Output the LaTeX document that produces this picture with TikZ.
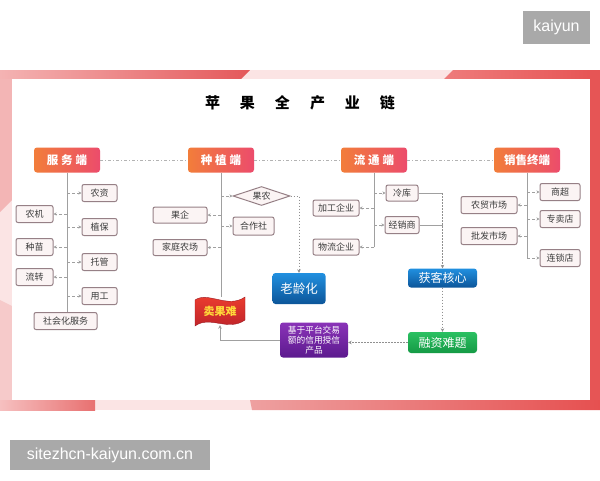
\documentclass[tikz,border=0pt]{standalone}
\usepackage{fontspec}
\setmainfont{Noto Sans CJK SC}
\newfontfamily\latinfont{Liberation Sans}
\usetikzlibrary{shapes.geometric,arrows.meta}
\definecolor{hdrL}{HTML}{F27D3A}
\definecolor{hdrR}{HTML}{EC4C6C}
\definecolor{boxB}{HTML}{968086}
\definecolor{boxF}{HTML}{FBF4F4}
\definecolor{txtC}{HTML}{3C3C3C}
\definecolor{lineC}{HTML}{A0A0A0}
\definecolor{dotC}{HTML}{909090}
\definecolor{frameBase}{HTML}{FBE4E4}
\definecolor{wmC}{HTML}{A9A9A9}
\definecolor{blueT}{HTML}{2190E0}
\definecolor{blueB}{HTML}{0C5599}
\definecolor{greenT}{HTML}{2BC062}
\definecolor{greenB}{HTML}{159A45}
\definecolor{purT}{HTML}{8A33B8}
\definecolor{purB}{HTML}{5C1A8E}
\definecolor{flagT}{HTML}{F2402F}
\definecolor{flagB}{HTML}{B8202A}
\definecolor{flagTxt}{HTML}{FFD93A}
\definecolor{frTLa}{HTML}{F4B3B3}
\definecolor{frTLb}{HTML}{E4585A}
\definecolor{frL1}{HTML}{F3B5B5}
\definecolor{frL2}{HTML}{F6CACA}
\definecolor{frTRa}{HTML}{EE7B7B}
\definecolor{frTRb}{HTML}{E65353}
\definecolor{frR}{HTML}{E65555}
\definecolor{frBLa}{HTML}{F6C0C0}
\definecolor{frBLb}{HTML}{E87070}
\definecolor{frBRa}{HTML}{EEA0A0}
\definecolor{frBRb}{HTML}{E65050}
\begin{document}
\begin{tikzpicture}[x=1pt,y=-1pt,
  hdr/.style={rounded corners=3pt, left color=hdrL, right color=hdrR, minimum width=66pt, minimum height=25pt, inner sep=0pt, text=white, font=\bfseries\fontsize{11.5}{11.5}\selectfont},
  box/.style={draw=boxB, fill=boxF, line width=1pt, rounded corners=2pt, minimum height=17pt, inner sep=0pt, text=txtC, font=\fontsize{9}{9}\selectfont},
  arr/.style={draw=lineC, line width=0.6pt, densely dashed, -{Stealth[length=3pt,width=3pt]}},
  trunk/.style={draw=lineC, line width=0.8pt},
  dotarr/.style={draw=dotC, line width=0.8pt, dash pattern=on 1.5pt off 1.5pt, -{Stealth[length=3.5pt,width=3.5pt]}},
  hlink/.style={draw=lineC!80, line width=0.6pt, dash pattern=on 3pt off 2pt on 1pt off 2pt},
  colbox/.style={rounded corners=3pt, inner sep=0pt, text=white, font=\fontsize{12}{12}\selectfont},
  wm/.style={fill=wmC, inner sep=0pt, text=white, font=\latinfont\fontsize{16}{16}\selectfont}
]
\useasboundingbox (0,0) rectangle (600,480);
% frame
\fill[frameBase] (0,70) rectangle (600,410);
\shade[left color=frTLa, right color=frTLb] (0,70) -- (250,70) -- (241,79) -- (0,79) -- cycle;
\fill[frL1] (0,79) -- (12,79) -- (12,200) -- (0,212) -- cycle;
\fill[frL2] (0,300) -- (12,306) -- (12,400) -- (0,400) -- cycle;
\shade[left color=frTRa, right color=frTRb] (453,70) -- (600,70) -- (600,79) -- (444,79) -- cycle;
\fill[frR] (590,70) rectangle (600,410);
\shade[left color=frBLa, right color=frBLb] (0,400) rectangle (95,410);
\shade[left color=frBRa, right color=frBRb] (250,400) -- (600,400) -- (600,410) -- (252,410) -- cycle;
\fill[white] (12,79) rectangle (590,400);

% watermarks
\node[wm, minimum width=67pt, minimum height=33pt] (wm1) at (556.5,27.5) {kaiyun};
\node[wm, minimum width=200pt, minimum height=30pt] (wm2) at (110,455) {sitezhcn-kaiyun.com.cn};

% title
\node[font=\bfseries\fontsize{15}{15}\selectfont] (title) at (300,103) {苹\hspace{20pt}果\hspace{20pt}全\hspace{20pt}产\hspace{20pt}业\hspace{20pt}链};

% headers
\node[hdr] (h1) at (67,160) {服\hspace{3pt}务\hspace{3pt}端};
\node[hdr] (h2) at (221,160) {种\hspace{3pt}植\hspace{3pt}端};
\node[hdr] (h3) at (374,160) {流\hspace{3pt}通\hspace{3pt}端};
\node[hdr] (h4) at (527,160) {销售终端};
\draw[hlink] (h1.east) -- (h2.west);
\draw[hlink] (h2.east) -- (h3.west);
\draw[hlink] (h3.east) -- (h4.west);

% service column
\node[box, minimum width=35pt] (nz) at (99.5,193) {农资};
\node[box, minimum width=35pt] (zb) at (99.5,227) {植保};
\node[box, minimum width=35pt] (tg) at (99.5,262) {托管};
\node[box, minimum width=35pt] (yg) at (99.5,296) {用工};
\node[box, minimum width=37pt] (nj) at (34.5,214) {农机};
\node[box, minimum width=37pt] (zm) at (34.5,247) {种苗};
\node[box, minimum width=37pt] (lz) at (34.5,277) {流转};
\node[box, minimum width=63pt] (shfw) at (65.5,321) {社会化服务};
\draw[trunk] (h1.south) -- (h1.south |- shfw.north);
\foreach \n in {nz,zb,tg,yg} \draw[arr] (h1.south |- \n.west) -- (\n.west);
\foreach \n in {nj,zm,lz} \draw[arr] (h1.south |- \n.east) -- (\n.east);

% planting column
\node[diamond, draw=boxB, fill=boxF, line width=1pt, minimum width=57pt, minimum height=19pt, inner sep=0pt, aspect=3, text=txtC, font=\fontsize{9}{9}\selectfont] (gn) at (261.5,196) {果农};
\node[box, minimum width=41pt, minimum height=18pt] (hzs) at (253.5,226) {合作社};
\node[box, minimum width=54pt, minimum height=16pt] (gq) at (180,215) {果企};
\node[box, minimum width=54pt, minimum height=16pt] (jt) at (180,247.5) {家庭农场};
\shade[top color=flagT, bottom color=flagB, draw=flagB!85!black, line width=0.4pt] (195,300) .. controls (208,291) and (228,309) .. (245,297) -- (245,320) .. controls (228,332) and (210,315) .. (195,326) -- cycle;
\node[minimum width=50pt, minimum height=28pt, inner sep=0pt, text=flagTxt, font=\bfseries\fontsize{11}{11}\selectfont] (flag) at (220,311) {卖果难};
\draw[trunk] (h2.south) -- (h2.south |- flag.north);
\draw[arr] (h2.south |- gn.west) -- (gn.west);
\draw[arr] (h2.south |- hzs.west) -- (hzs.west);
\draw[arr] (h2.south |- gq.east) -- (gq.east);
\draw[arr] (h2.south |- jt.east) -- (jt.east);

% circulation column
\node[box, minimum width=32pt, minimum height=16pt] (lk) at (402,193) {冷库};
\node[box, minimum width=34pt] (jx) at (402,225) {经销商};
\node[box, minimum width=46pt, minimum height=16pt] (jg) at (336,208) {加工企业};
\node[box, minimum width=46pt, minimum height=16pt] (wl) at (336,247) {物流企业};
\draw[trunk] (h3.south) -- (h3.south |- wl.east);
\draw[arr] (h3.south |- lk.west) -- (lk.west);
\draw[arr] (h3.south |- jx.west) -- (jx.west);
\draw[arr] (h3.south |- jg.east) -- (jg.east);
\draw[arr] (h3.south |- wl.east) -- (wl.east);

% sales column
\node[box, minimum width=40pt] (sc) at (560,192) {商超};
\node[box, minimum width=40pt] (zmd) at (560,219) {专卖店};
\node[box, minimum width=40pt] (ls) at (560,258) {连锁店};
\node[box, minimum width=56pt] (ny) at (489,205) {农贸市场};
\node[box, minimum width=56pt] (pf) at (489,236) {批发市场};
\draw[trunk] (h4.south) -- (h4.south |- ls.west);
\foreach \n in {sc,zmd,ls} \draw[arr] (h4.south |- \n.west) -- (\n.west);
\foreach \n in {ny,pf} \draw[arr] (h4.south |- \n.east) -- (\n.east);

% coloured boxes
\node[colbox, top color=blueT, bottom color=blueB, minimum width=53pt, minimum height=31pt, font=\fontsize{12.5}{12.5}\selectfont] (lao) at (299,288.5) {老龄化};
\node[colbox, top color=blueT, bottom color=blueB, minimum width=69pt, minimum height=19pt] (hk) at (442.5,278) {获客核心};
\node[colbox, top color=greenT, bottom color=greenB, minimum width=69pt, minimum height=21pt] (rz) at (442.5,342.5) {融资难题};
\node[colbox, top color=purT, bottom color=purB, minimum width=68pt, minimum height=35pt, align=center, font=\fontsize{8.7}{10.2}\selectfont] (jy) at (314,340) {基于平台交易\\额的信用授信\\产品};

% links
\draw[dotarr] (gn.east) -| (lao.north);
\draw[trunk] (lk.east) -- (lk.east -| hk.north);
\draw[trunk] (jx.east) -- (jx.east -| hk.north);
\draw[dotarr] (lk.east -| hk.north) -- (hk.north);
\draw[dotarr] (hk.south) -- (rz.north);
\draw[dotarr] (rz.west) -- (rz.west -| jy.east);
\draw[trunk, -{Stealth[length=3.5pt,width=3.5pt]}] (jy.west) -| (flag.south);
\end{tikzpicture}
\end{document}
